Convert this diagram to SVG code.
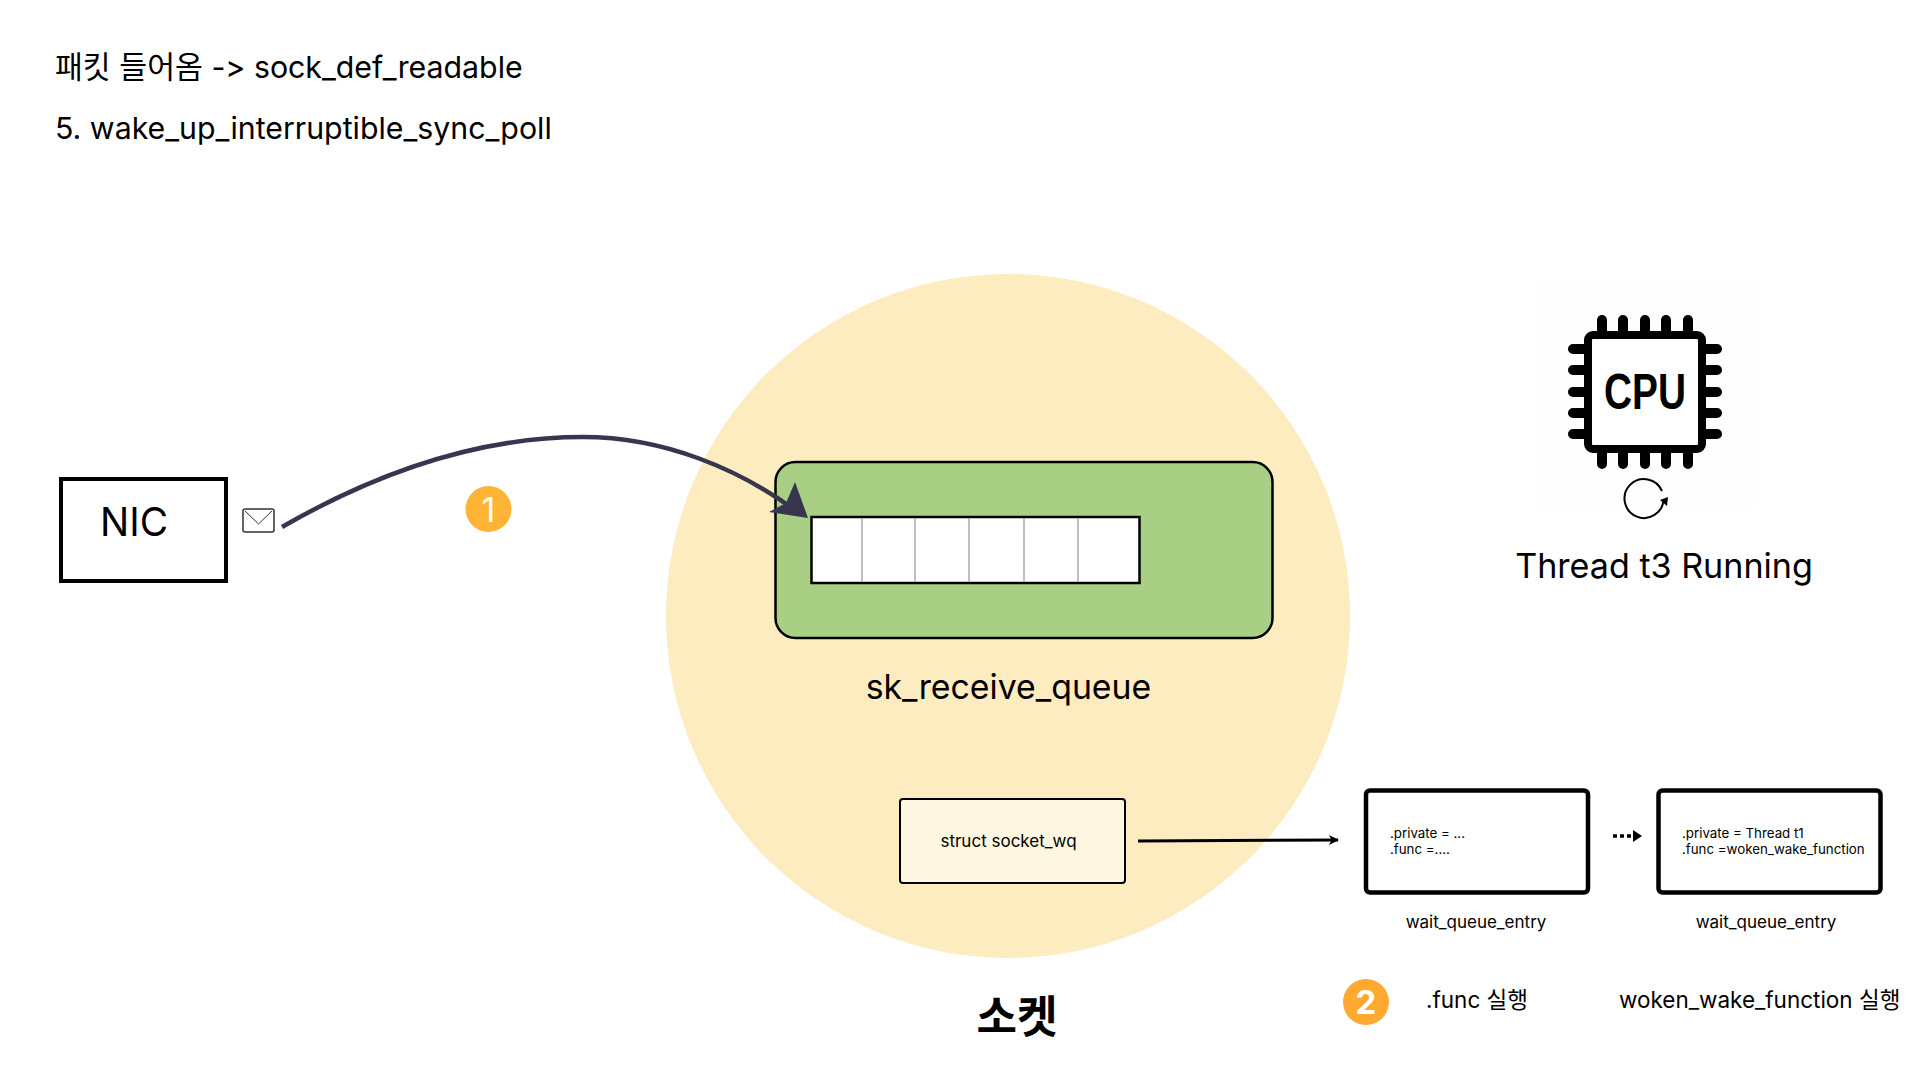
<svg xmlns="http://www.w3.org/2000/svg" width="1924" height="1080" viewBox="0 0 1924 1080">
<style>
text{font-family:Inter,"Noto Sans CJK KR",sans-serif;fill:#000}
.h{font-size:30.3px}
.s{font-size:17px}
.t{font-size:13.3px}
.m{font-size:22.5px}
.box{fill:#fff;stroke:#000;stroke-width:4.5}
.pin{stroke:#000;stroke-width:10;stroke-linecap:round;fill:none}
.cell{stroke:#aaa;stroke-width:1.5}
</style>
<defs>
<marker id="a" markerUnits="userSpaceOnUse" markerWidth="12" markerHeight="12" refX="9" refY="5" orient="auto"><path d="M0 0L10 5L0 10L2.5 5Z" fill="#000"/></marker>
</defs>
<rect width="1924" height="1080" fill="#fff"/>
<g id="title"><text class="h" x="55" y="78">패킷 들어옴 -&gt; sock_def_readable</text><text class="h" x="55" y="139">5. wake_up_interruptible_sync_poll</text></g>
<g id="socket"><circle cx="1008" cy="616" r="342" fill="#fdecc0"/><text x="1017" y="1033" font-size="44" font-weight="600" text-anchor="middle">소켓</text></g>
<g id="nic"><rect x="61" y="479" width="165" height="102" fill="#fff" stroke="#000" stroke-width="4"/><text x="100" y="536" font-size="40" textLength="68" lengthAdjust="spacingAndGlyphs">NIC</text></g>
<g id="envelope"><rect x="243" y="509" width="31" height="23" rx="2" fill="#fff" stroke="#333" stroke-width="1.5"/><path d="M245 511L258.500 524L272 511" fill="none" stroke="#333" stroke-width="1"/></g>
<g id="badge1"><circle cx="488.500" cy="509" r="23" fill="#ffb435"/><text x="488.500" y="522" font-size="34" style="fill:#fff" text-anchor="middle">1</text></g>
<g id="sk_receive_queue"><rect x="775.500" y="462" width="497" height="176" rx="20" fill="#a8cf83" stroke="#000" stroke-width="2.500"/>
<rect x="811.500" y="517" width="328" height="66" fill="#fff" stroke="#000" stroke-width="2.500"/>
<path class="cell" d="M862 518V582M915 518V582M969 518V582M1024 518V582M1078 518V582"/>
<text x="1008.500" y="699" text-anchor="middle" font-size="33.800">sk_receive_queue</text></g>
<g id="socket_wq"><rect x="900" y="799" width="225" height="84" rx="3" fill="#fdf6e0" stroke="#000" stroke-width="2"/><text class="s" x="1008.500" y="847" text-anchor="middle">struct socket_wq</text></g>
<g id="cpu">
<rect x="1534" y="280" width="222" height="230" fill="#fefefe"/>
<rect x="1588" y="335" width="114" height="114" rx="5" fill="#fff" stroke="#000" stroke-width="8"/>
<path class="pin" d="M1602 320V331M1623 320V331M1645 320V331M1666 320V331M1688 320V331M1602 453V464M1623 453V464M1645 453V464M1666 453V464M1688 453V464M1573 349H1584M1573 370H1584M1573 392H1584M1573 413H1584M1573 434H1584M1706 349H1717M1706 370H1717M1706 392H1717M1706 413H1717M1706 434H1717"/>
<text x="1604" y="409" font-size="50" font-weight="700" textLength="82" lengthAdjust="spacingAndGlyphs" style="font-family:'Liberation Sans',sans-serif">CPU</text>
<path d="M1663.500 499A19.500 19.500 0 1 1 1662 491" fill="none" stroke="#000" stroke-width="2"/><path d="M1660 500L1668 497L1667 506Z" fill="#000"/>
<text x="1664" y="578" text-anchor="middle" font-size="34.100">Thread t3 Running</text></g>
<g id="entry1"><rect class="box" x="1366" y="790.500" width="222" height="102" rx="4"/><text class="t" x="1390" y="838">.private = ...</text><text class="t" x="1390" y="854">.func =....</text><text class="s" x="1476" y="928" text-anchor="middle">wait_queue_entry</text></g>
<g id="entry2"><rect class="box" x="1658.500" y="790.500" width="222" height="102" rx="4"/><text class="t" x="1682" y="838">.private = Thread t1</text><text class="t" x="1682" y="854">.func =woken_wake_function</text><text class="s" x="1766" y="928" text-anchor="middle">wait_queue_entry</text></g>
<g id="badge2"><circle cx="1366" cy="1002" r="23" fill="#ffa930"/><text x="1366" y="1014" font-size="33" font-weight="700" style="fill:#fff" text-anchor="middle">2</text></g>
<g id="captions"><text class="m" x="1426" y="1008">.func 실행</text><text class="m" x="1619" y="1008">woken_wake_function 실행</text></g>
<g id="connectors" fill="none">
<path d="M282 527C400 459 500 437 583 437C665 437 740 470 795 510" stroke="#38364f" stroke-width="4.500"/>
<path d="M808 518L769 512L786 503L795 482Z" fill="#38364f"/>
<path d="M1138 841L1338 840" stroke="#000" stroke-width="3" marker-end="url(#a)"/>
<path d="M1613 836H1637" stroke="#000" stroke-width="3.500" stroke-dasharray="4 3"/><path d="M1633 830L1642 836L1633 842Z" fill="#000"/>
</g>
</svg>
